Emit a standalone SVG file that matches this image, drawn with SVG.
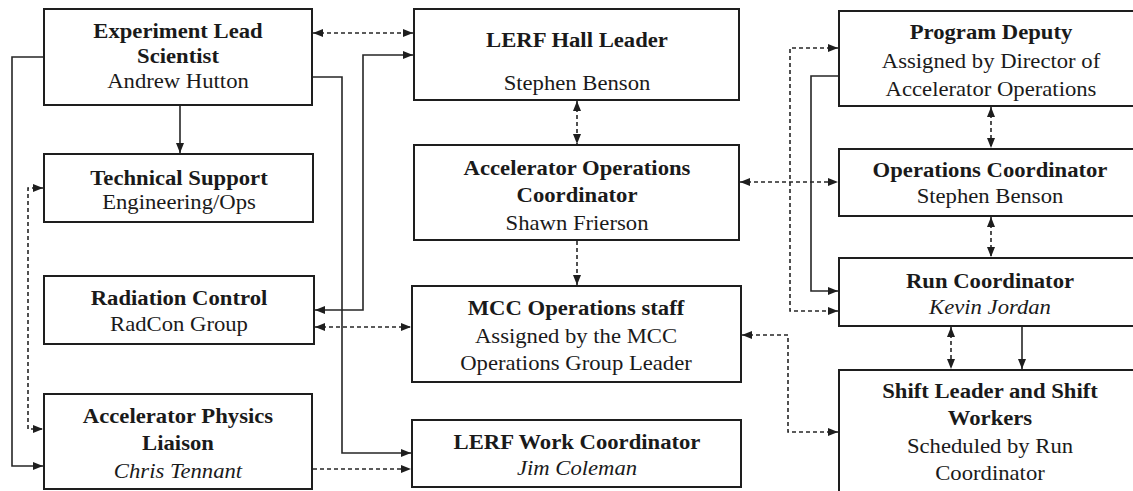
<svg xmlns="http://www.w3.org/2000/svg" width="1133" height="491" viewBox="0 0 1133 491">
  <style>
    .box { fill: #ffffff; stroke: #1e1e1e; stroke-width: 2; }
    .ln { fill: none; stroke: #262626; stroke-width: 1.6; }
    .dash { stroke-dasharray: 4 3; }
    text { font-family: "Liberation Serif", "Times New Roman", serif; font-size: 21px; fill: #1a1a1a; text-anchor: middle; }
    .b { font-weight: bold; }
    .i { font-style: italic; }
  </style>
  <defs>
    <marker id="arr" viewBox="0 0 10 8" refX="10" refY="4" markerWidth="10" markerHeight="8" markerUnits="userSpaceOnUse" orient="auto-start-reverse">
      <path d="M0,0 L10,4 L0,8 Z" fill="#1e1e1e"/>
    </marker>
  </defs>
  <rect width="1133" height="491" fill="#ffffff"/>

  <!-- connectors -->
  <g id="connectors">
    <!-- Experiment Lead Scientist <-> LERF Hall Leader -->
    <path class="ln dash" d="M313,33 H413" marker-start="url(#arr)" marker-end="url(#arr)"/>
    <!-- Experiment Lead Scientist -> Technical Support -->
    <path class="ln" d="M180,105 V153" marker-end="url(#arr)"/>
    <!-- Experiment Lead Scientist -> Accelerator Physics Liaison -->
    <path class="ln" d="M44,57 H12 V466 H43" marker-end="url(#arr)"/>
    <!-- Experiment Lead Scientist -> LERF Work Coordinator -->
    <path class="ln" d="M312,77 H342 V453 H411" marker-end="url(#arr)"/>
    <!-- LERF Hall Leader <-> Radiation Control -->
    <path class="ln" d="M413,55 H363 V310 H315" marker-start="url(#arr)" marker-end="url(#arr)"/>
    <!-- Technical Support <-> Accelerator Physics Liaison -->
    <path class="ln dash" d="M43,188 H28 V429 H43" marker-start="url(#arr)" marker-end="url(#arr)"/>
    <!-- Radiation Control <-> MCC Operations staff -->
    <path class="ln dash" d="M315,327 H411" marker-start="url(#arr)" marker-end="url(#arr)"/>
    <!-- Accelerator Physics Liaison -> LERF Work Coordinator -->
    <path class="ln dash" d="M313,469 H411" marker-end="url(#arr)"/>
    <!-- LERF Hall Leader <-> Accelerator Operations Coordinator -->
    <path class="ln dash" d="M577,101 V144" marker-start="url(#arr)" marker-end="url(#arr)"/>
    <!-- Accelerator Operations Coordinator -> MCC Operations staff -->
    <path class="ln dash" d="M577,241 V285" marker-end="url(#arr)"/>
    <!-- Accelerator Operations Coordinator <-> Operations Coordinator -->
    <path class="ln dash" d="M740,182 H838" marker-start="url(#arr)" marker-end="url(#arr)"/>
    <!-- Program Deputy <-> Run Coordinator -->
    <path class="ln dash" d="M838,48 H790 V311 H838" marker-start="url(#arr)" marker-end="url(#arr)"/>
    <!-- Program Deputy -> Run Coordinator -->
    <path class="ln" d="M839,76 H811 V291 H838" marker-end="url(#arr)"/>
    <!-- Program Deputy <-> Operations Coordinator -->
    <path class="ln dash" d="M991,107 V148" marker-start="url(#arr)" marker-end="url(#arr)"/>
    <!-- Operations Coordinator <-> Run Coordinator -->
    <path class="ln dash" d="M991,217 V257" marker-start="url(#arr)" marker-end="url(#arr)"/>
    <!-- Run Coordinator <-> Shift Leader -->
    <path class="ln dash" d="M951,327 V369" marker-start="url(#arr)" marker-end="url(#arr)"/>
    <!-- Run Coordinator -> Shift Leader -->
    <path class="ln" d="M1022,326 V369" marker-end="url(#arr)"/>
    <!-- MCC Operations staff <-> Shift Leader -->
    <path class="ln dash" d="M742,335 H788 V432 H838" marker-start="url(#arr)" marker-end="url(#arr)"/>
  </g>

  <!-- left column -->
  <g id="experiment-lead">
    <rect class="box" x="44" y="9" width="268" height="96"/>
    <text class="b" transform="matrix(1.08 0 0 1 178 38)">Experiment Lead</text>
    <text class="b" transform="matrix(1.08 0 0 1 178 63)">Scientist</text>
    <text transform="matrix(1.08 0 0 1 178 88)">Andrew Hutton</text>
  </g>
  <g id="technical-support">
    <rect class="box" x="44" y="154" width="269" height="68"/>
    <text class="b" transform="matrix(1.08 0 0 1 179 185)">Technical Support</text>
    <text transform="matrix(1.08 0 0 1 179 209)">Engineering/Ops</text>
  </g>
  <g id="radiation-control">
    <rect class="box" x="44" y="276" width="270" height="68"/>
    <text class="b" transform="matrix(1.08 0 0 1 179 305)">Radiation Control</text>
    <text transform="matrix(1.08 0 0 1 179 331)">RadCon Group</text>
  </g>
  <g id="physics-liaison">
    <rect class="box" x="44" y="394" width="268" height="95"/>
    <text class="b" transform="matrix(1.08 0 0 1 178 423)">Accelerator Physics</text>
    <text class="b" transform="matrix(1.08 0 0 1 178 450)">Liaison</text>
    <text class="i" transform="matrix(1.08 0 0 1 178 478)">Chris Tennant</text>
  </g>

  <!-- middle column -->
  <g id="lerf-hall-leader">
    <rect class="box" x="414" y="9" width="325" height="91"/>
    <text class="b" transform="matrix(1.08 0 0 1 577 47)">LERF Hall Leader</text>
    <text transform="matrix(1.08 0 0 1 577 90)">Stephen Benson</text>
  </g>
  <g id="ops-coordinator-acc">
    <rect class="box" x="414" y="145" width="325" height="95"/>
    <text class="b" transform="matrix(1.08 0 0 1 577 175)">Accelerator Operations</text>
    <text class="b" transform="matrix(1.08 0 0 1 577 202)">Coordinator</text>
    <text transform="matrix(1.08 0 0 1 577 230)">Shawn Frierson</text>
  </g>
  <g id="mcc-staff">
    <rect class="box" x="412" y="286" width="329" height="96"/>
    <text class="b" transform="matrix(1.08 0 0 1 576 315)">MCC Operations staff</text>
    <text transform="matrix(1.08 0 0 1 576 343)">Assigned by the MCC</text>
    <text transform="matrix(1.08 0 0 1 576 370)">Operations Group Leader</text>
  </g>
  <g id="lerf-work-coordinator">
    <rect class="box" x="412" y="420" width="329" height="67"/>
    <text class="b" transform="matrix(1.08 0 0 1 577 449)">LERF Work Coordinator</text>
    <text class="i" transform="matrix(1.08 0 0 1 577 475)">Jim Coleman</text>
  </g>

  <!-- right column -->
  <g id="program-deputy">
    <rect class="box" x="839" y="11" width="300" height="95"/>
    <text class="b" transform="matrix(1.08 0 0 1 991 39)">Program Deputy</text>
    <text transform="matrix(1.08 0 0 1 991 68)">Assigned by Director of</text>
    <text transform="matrix(1.08 0 0 1 991 96)">Accelerator Operations</text>
  </g>
  <g id="operations-coordinator">
    <rect class="box" x="839" y="149" width="300" height="67"/>
    <text class="b" transform="matrix(1.08 0 0 1 990 177)">Operations Coordinator</text>
    <text transform="matrix(1.08 0 0 1 990 203)">Stephen Benson</text>
  </g>
  <g id="run-coordinator">
    <rect class="box" x="839" y="258" width="300" height="68"/>
    <text class="b" transform="matrix(1.08 0 0 1 990 288)">Run Coordinator</text>
    <text class="i" transform="matrix(1.08 0 0 1 990 314)">Kevin Jordan</text>
  </g>
  <g id="shift-leader">
    <rect class="box" x="839" y="370" width="300" height="130"/>
    <text class="b" transform="matrix(1.08 0 0 1 990 398)">Shift Leader and Shift</text>
    <text class="b" transform="matrix(1.08 0 0 1 990 425)">Workers</text>
    <text transform="matrix(1.08 0 0 1 990 453)">Scheduled by Run</text>
    <text transform="matrix(1.08 0 0 1 990 480)">Coordinator</text>
  </g>
</svg>
